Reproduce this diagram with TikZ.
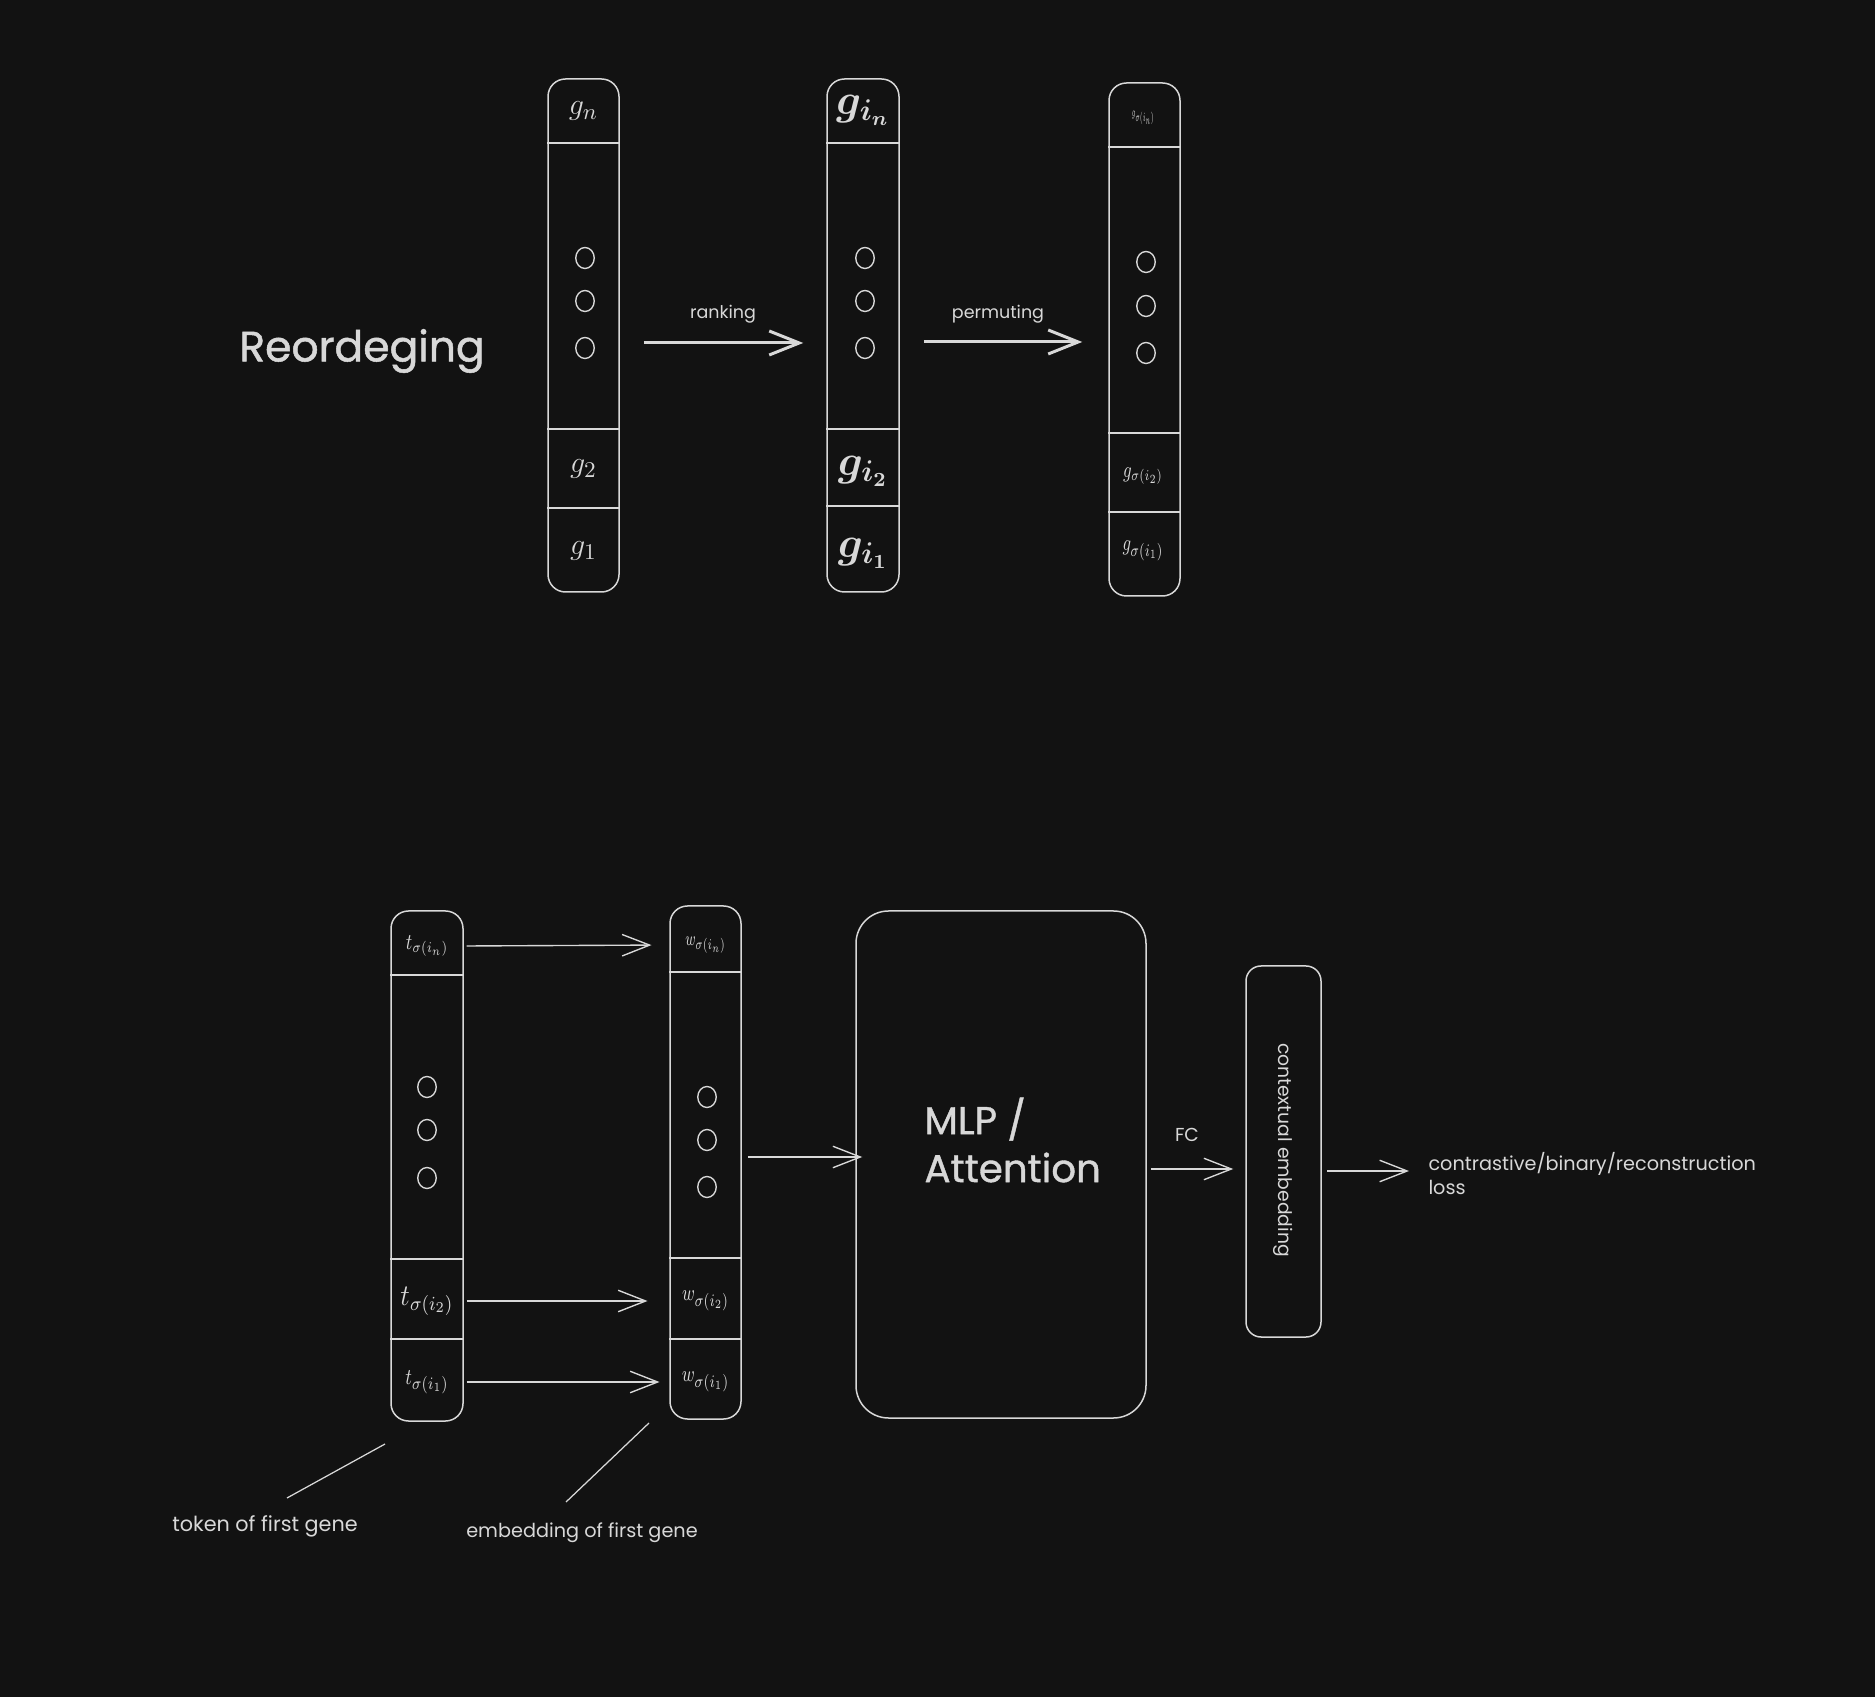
\documentclass[tikz,border=0pt]{standalone}
\usepackage[no-math]{fontspec}
\setmainfont{Poppins}
\usepackage{amsmath,bm}
\usetikzlibrary{arrows.meta,shapes.geometric,calc}
\definecolor{bg}{HTML}{121212}
\definecolor{ink}{HTML}{D8D8D8}
\tikzset{
  col/.style={draw=ink, line width=0.6pt, rounded corners=7pt, inner sep=0pt},
  cell/.style={inner sep=0pt, text=ink},
  dot/.style={draw=ink, line width=0.55pt, ellipse, minimum width=7.4pt, minimum height=8.4pt, inner sep=0pt},
  divider/.style={draw=ink, line width=0.6pt},
  bigarr/.style={draw=ink, line width=1.2pt, -{Straight Barb[length=12pt,width=9.6pt,line width=1.2pt]}},
  arr/.style={draw=ink, line width=0.55pt, -{Straight Barb[length=11pt,width=8.6pt,line width=0.55pt]}},
  lbl/.style={text=ink, inner sep=0pt},
  note/.style={draw=ink, line width=0.5pt},
}
\newcommand{\fsz}[1]{\fontsize{#1}{#1}\selectfont}
\newcommand{\hsq}[2]{\scalebox{#1}[1]{#2}}
\begin{document}
\begin{tikzpicture}[x=0.4pt,y=-0.4pt]
\fill[bg] (0,0) rectangle (1875,1697);
\useasboundingbox (0,0) rectangle (1875,1697);

% ---------- top: reordering ----------
\node[lbl, font=\fsz{17}\addfontfeature{FakeBold=1.2}] (title) at (362,351) {Reordeging};

\node[col, minimum width=28.4pt, minimum height=205.2pt] (c1) at (583.5,335.5) {};
\node[col, minimum width=28.8pt, minimum height=205.2pt] (c2) at (863,335.5) {};
\node[col, minimum width=28.4pt, minimum height=205.2pt] (c3) at (1144.5,339.5) {};

\foreach \y in {143,429,508} \draw[divider] (c1.west |- {(0,\y)}) -- (c1.east |- {(0,\y)});
\foreach \y in {143,429,506} \draw[divider] (c2.west |- {(0,\y)}) -- (c2.east |- {(0,\y)});
\foreach \y in {147,433,512} \draw[divider] (c3.west |- {(0,\y)}) -- (c3.east |- {(0,\y)});

\node[cell, font=\fsz{12.8}] (c1n) at (583.5,111) {$g_n$};
\node[cell, font=\fsz{12.8}] (c12) at (583.5,469) {$g_2$};
\node[cell, font=\fsz{12.8}] (c11) at (583.5,551) {$g_1$};

\node[cell, font=\fsz{17}] (c2n) at (863,110) {$\boldsymbol{g_{i_n}}$};
\node[cell, font=\fsz{17}] (c22) at (863,471) {$\boldsymbol{g_{i_2}}$};
\node[cell, font=\fsz{17}] (c21) at (863,553) {$\boldsymbol{g_{i_1}}$};

\node[cell, font=\fsz{5}] (c3n) at (1143,118) {\hsq{0.43}{$g_{\sigma(i_n)}$}};
\node[cell, font=\fsz{9}] (c32) at (1143,476) {\hsq{0.73}{$g_{\sigma(i_2)}$}};
\node[cell, font=\fsz{9.5}] (c31) at (1143,551) {\hsq{0.72}{$g_{\sigma(i_1)}$}};

\foreach \y [count=\k] in {258,301,348} \node[dot] (d1\k) at (585,\y) {};
\foreach \y [count=\k] in {258,301,348} \node[dot] (d2\k) at (865,\y) {};
\foreach \y [count=\k] in {262,306,353} \node[dot] (d3\k) at (1146,\y) {};

\draw[bigarr, shorten <=9.6pt, shorten >=9.2pt] (c1.east |- {(0,343)}) -- (c2.west |- {(0,343)});
\draw[bigarr, shorten <=9.6pt, shorten >=10.4pt] (c2.east |- {(0,342)}) -- (c3.west |- {(0,342)});
\node[lbl, font=\fsz{7}] (rk) at (723,314) {ranking};
\node[lbl, font=\fsz{7}] (pm) at (998,314) {permuting};

% ---------- bottom ----------
\node[col, minimum width=28.8pt, minimum height=204pt] (A) at (427,1166) {};
\node[col, minimum width=28.4pt, minimum height=205.2pt] (B) at (705.5,1162.5) {};
\foreach \y in {975,1259,1339} \draw[divider] (A.west |- {(0,\y)}) -- (A.east |- {(0,\y)});
\foreach \y in {972,1258,1339} \draw[divider] (B.west |- {(0,\y)}) -- (B.east |- {(0,\y)});

\node[cell, minimum width=28.8pt, font=\fsz{9}] (ta) at (427,946) {\hsq{0.78}{$t_{\sigma(i_n)}$}};
\node[cell, minimum width=28.8pt, font=\fsz{12}] (tb) at (427,1301) {\hsq{0.9}{$t_{\sigma(i_2)}$}};
\node[cell, minimum width=28.8pt, font=\fsz{9.5}] (tc) at (427,1382) {\hsq{0.8}{$t_{\sigma(i_1)}$}};
\node[cell, minimum width=28.4pt, font=\fsz{8.5}] (wa) at (705.5,945) {\hsq{0.66}{$w_{\sigma(i_n)}$}};
\node[cell, minimum width=28.4pt, font=\fsz{9.5}] (wb) at (705.5,1301) {\hsq{0.75}{$w_{\sigma(i_2)}$}};
\node[cell, minimum width=28.4pt, font=\fsz{9.5}] (wc) at (705.5,1382) {\hsq{0.76}{$w_{\sigma(i_1)}$}};

\foreach \y [count=\k] in {1087,1130,1178} \node[dot] (dA\k) at (427,\y) {};
\foreach \y [count=\k] in {1097,1140,1187} \node[dot] (dB\k) at (707,\y) {};

\draw[arr, shorten <=1.2pt, shorten >=7.2pt] (ta.east) -- (wa.west);
\draw[arr, shorten <=1.2pt, shorten >=8.8pt] (tb.east) -- (wb.west);
\draw[arr, shorten <=1.2pt, shorten >=4pt] (tc.east) -- (wc.west);

\node[draw=ink, line width=0.6pt, rounded corners=13pt, minimum width=116pt, minimum height=202.8pt, inner sep=0pt] (mlp) at (1001,1164.5) {};
\node[lbl, font=\fontsize{15.5}{19.2}\selectfont\addfontfeature{FakeBold=1}, align=left, anchor=west] (mlpt) at (924,1140) {MLP /\\Attention};

\draw[arr, shorten <=2.4pt, shorten >=-2.8pt] (B.east |- {(0,1157)}) -- (mlp.west |- {(0,1157)});

\node[col, rounded corners=6pt, minimum width=30pt, minimum height=148.4pt] (ctx) at (1283.5,1151.5) {};
\node[lbl, font=\fsz{7.5}, rotate=-90] (ctxt) at (1283,1150) {contextual embedding};

\draw[arr, shorten <=1.6pt, shorten >=4.8pt] (mlp.east |- {(0,1169)}) -- (ctx.west |- {(0,1169)});
\node[lbl, font=\fsz{7.5}] (fc) at (1187,1135) {FC};

\node[lbl, font=\fontsize{7.7}{9.6}\selectfont, align=left, anchor=west] (loss) at (1428,1174) {contrastive/binary/reconstruction\\loss};
\draw[arr, shorten <=2pt, shorten >=7.6pt] (ctx.east |- {(0,1171)}) -- (loss.west |- {(0,1171)});

% ---------- notes ----------
\node[lbl, font=\fsz{8.3}] (tok) at (265,1526) {token of first gene};
\node[lbl, font=\fsz{7.7}] (emb) at (582,1533) {embedding of first gene};
\coordinate (tk1) at (385,1444);
\coordinate (tk2) at (287,1498);
\coordinate (em1) at (649,1423);
\coordinate (em2) at (566,1502);
\draw[note] (tk1) -- (tk2);
\draw[note] (em1) -- (em2);
\end{tikzpicture}
\end{document}
